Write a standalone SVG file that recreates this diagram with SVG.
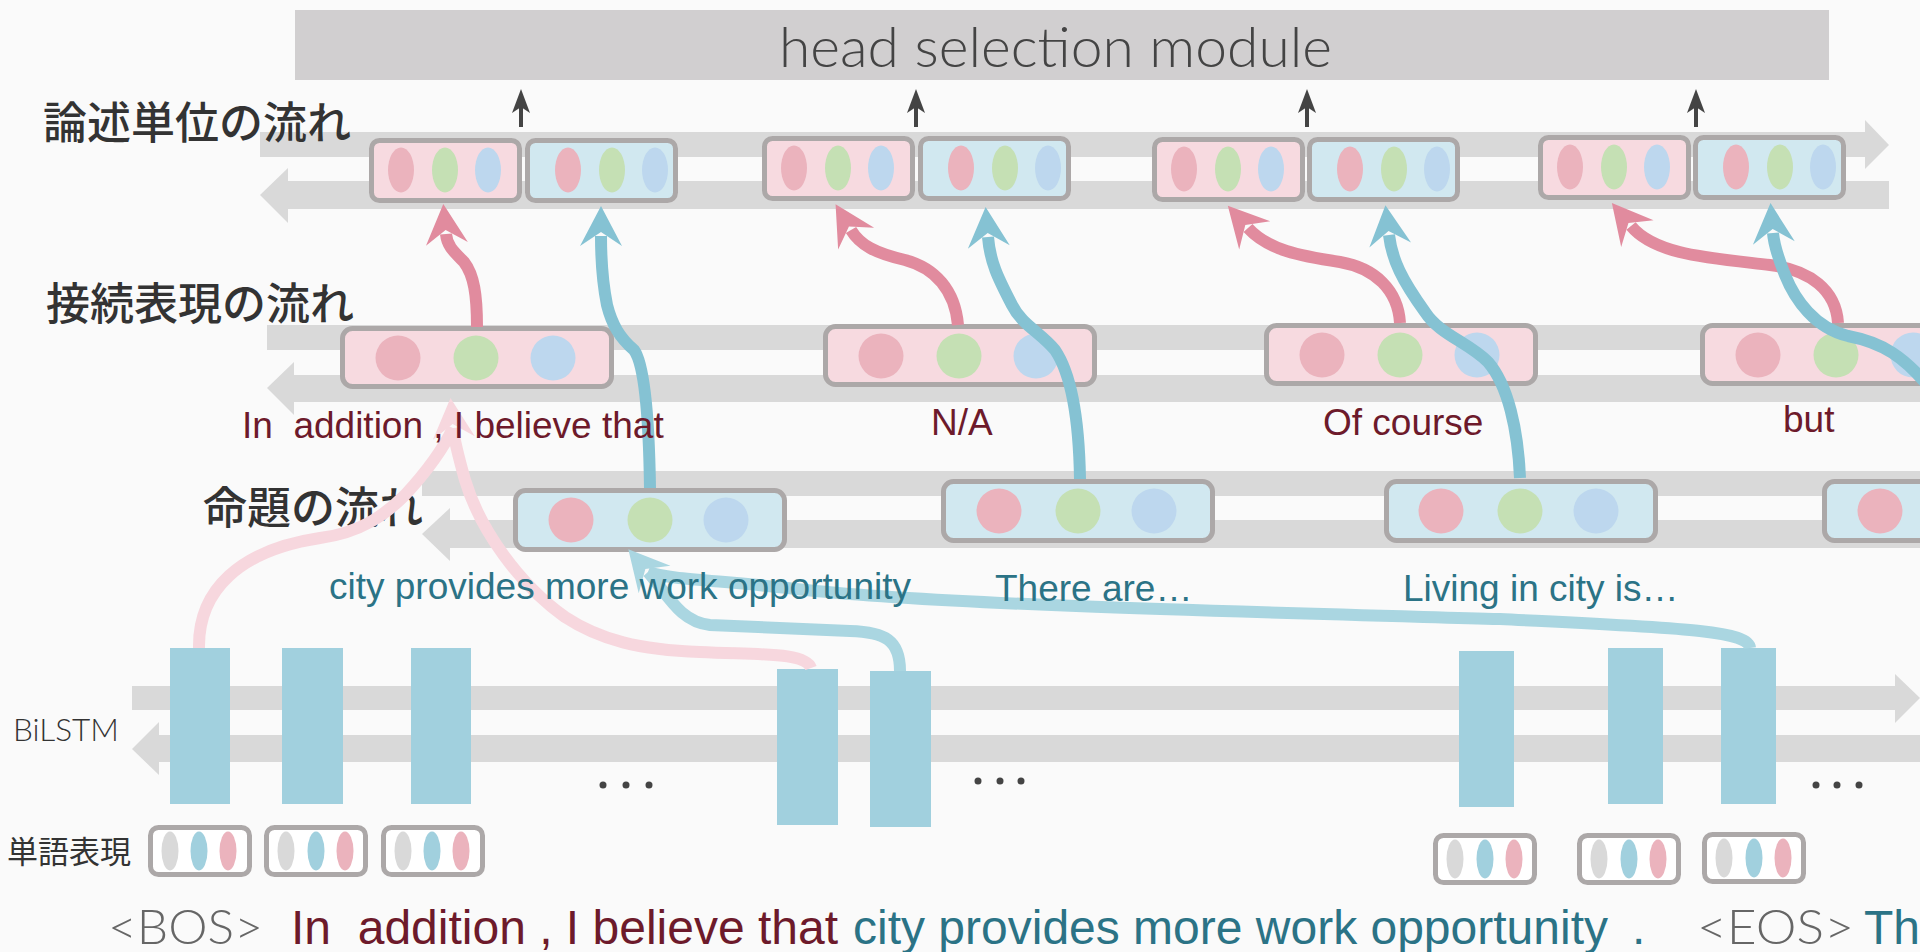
<svg xmlns="http://www.w3.org/2000/svg" width="1920" height="952" viewBox="0 0 1920 952" xml:space="preserve">
<defs>
<style>
.bar{fill:#d9d9d9}
.pk{fill:#f7dae0;stroke:#aca8a8;stroke-width:5}
.bl{fill:#d1e8f0;stroke:#aca8a8;stroke-width:5}
.wb{fill:#ffffff;stroke:#aca8a8;stroke-width:5}
.e1{fill:#ebb3bd}.e2{fill:#c5e0b4}.e3{fill:#bdd7ee}
.w1{fill:#d9d9d9}.w2{fill:#a1d0de}.w3{fill:#ebb3bd}
.cell{fill:#a1d0de}
.jp{font-family:"Noto Sans CJK JP","Noto Sans CJK SC",sans-serif;fill:#333333;font-weight:500}
.en{font-family:"Liberation Sans",Arial,sans-serif;white-space:pre}
.lt{font-family:"Lato","Liberation Sans",sans-serif;font-weight:300}
.red{fill:#6d1a2b}.teal{fill:#2b7386}.gry{fill:#666666}
.cP{fill:none;stroke:#e18b9e;stroke-width:12}
.cB{fill:none;stroke:#85c2d3;stroke-width:12}
.cLP{fill:none;stroke:#f7d7de;stroke-width:12}
.cLB{fill:none;stroke:#aad6e1;stroke-width:12}
.up{stroke:#444444;stroke-width:4;fill:none}
.uph{fill:#444444}
</style>
<marker id="ahP" markerUnits="userSpaceOnUse" markerWidth="80" markerHeight="80" viewBox="-40 -40 80 80" refX="0" refY="0" orient="auto" overflow="visible"><path d="M30 0 L-10 -21 L4 0 L-10 21 Z" fill="#e18b9e"/></marker>
<marker id="ahB" markerUnits="userSpaceOnUse" markerWidth="80" markerHeight="80" viewBox="-40 -40 80 80" refX="0" refY="0" orient="auto" overflow="visible"><path d="M30 0 L-10 -21 L4 0 L-10 21 Z" fill="#85c2d3"/></marker>
<marker id="ahLP" markerUnits="userSpaceOnUse" markerWidth="80" markerHeight="80" viewBox="-40 -40 80 80" refX="0" refY="0" orient="auto" overflow="visible"><path d="M30 0 L-10 -21 L4 0 L-10 21 Z" fill="#f7d7de"/></marker>
<marker id="ahLB" markerUnits="userSpaceOnUse" markerWidth="80" markerHeight="80" viewBox="-40 -40 80 80" refX="0" refY="0" orient="auto" overflow="visible"><path d="M30 0 L-10 -21 L4 0 L-10 21 Z" fill="#aad6e1"/></marker>
</defs>
<rect x="0" y="0" width="1920" height="952" fill="#fafafa"/>

<g id="flows">
<rect class="bar" x="260" y="132" width="1605" height="25"/>
<polygon class="bar" points="1865,120 1889,145 1865,169"/>
<rect class="bar" x="288" y="181" width="1601" height="28"/>
<polygon class="bar" points="288,168 260,195 288,223"/>
<rect class="bar" x="267" y="325" width="1653" height="25"/>
<rect class="bar" x="294" y="375" width="1626" height="27"/>
<polygon class="bar" points="294,362 267,388 294,415"/>
<rect class="bar" x="422" y="471" width="1498" height="25"/>
<rect class="bar" x="450" y="520" width="1470" height="28"/>
<polygon class="bar" points="450,508 422,534 450,561"/>
<rect class="bar" x="132" y="686" width="1763" height="24"/>
<polygon class="bar" points="1895,674 1920,698 1895,723"/>
<rect class="bar" x="159" y="735" width="1761" height="27"/>
<polygon class="bar" points="159,722 132,749 159,775"/>
</g>

<g id="head-selection">
<rect x="295" y="10" width="1534" height="70" fill="#d1cfd0"/>
<text class="lt" x="779" y="67" font-size="56" fill="#444444" textLength="553" lengthAdjust="spacingAndGlyphs">head selection module</text>
</g>

<g id="layer-labels">
<text class="jp" x="43" y="139" font-size="44">論述単位の流れ</text>
<text class="jp" x="46" y="320" font-size="44">接続表現の流れ</text>
<text class="jp" x="203" y="524" font-size="44">命題の流れ</text>
<text class="lt" x="13" y="741" font-size="31" fill="#333333" textLength="106" lengthAdjust="spacingAndGlyphs">BiLSTM</text>
<text class="jp" x="7" y="863" font-size="31" style="font-weight:400">単語表現</text>
</g>

<g id="top-unit-1">
<rect class="pk" x="371.5" y="140.5" width="148" height="60" rx="8"/>
<ellipse class="e1" cx="401" cy="170" rx="13" ry="22.5"/><ellipse class="e2" cx="445" cy="170" rx="13" ry="22.5"/><ellipse class="e3" cx="488" cy="170" rx="13" ry="22.5"/>
<rect class="bl" x="527.5" y="140.5" width="148" height="60" rx="8"/>
<ellipse class="e1" cx="568" cy="170" rx="13" ry="22.5"/><ellipse class="e2" cx="612" cy="170" rx="13" ry="22.5"/><ellipse class="e3" cx="655" cy="170" rx="13" ry="22.5"/>
</g>
<g id="top-unit-2">
<rect class="pk" x="764.5" y="138.5" width="148" height="60" rx="8"/>
<ellipse class="e1" cx="794" cy="168" rx="13" ry="22.5"/><ellipse class="e2" cx="838" cy="168" rx="13" ry="22.5"/><ellipse class="e3" cx="881" cy="168" rx="13" ry="22.5"/>
<rect class="bl" x="920.5" y="138.5" width="148" height="60" rx="8"/>
<ellipse class="e1" cx="961" cy="168" rx="13" ry="22.5"/><ellipse class="e2" cx="1005" cy="168" rx="13" ry="22.5"/><ellipse class="e3" cx="1048" cy="168" rx="13" ry="22.5"/>
</g>
<g id="top-unit-3">
<rect class="pk" x="1154.5" y="139.5" width="148" height="60" rx="8"/>
<ellipse class="e1" cx="1184" cy="169" rx="13" ry="22.5"/><ellipse class="e2" cx="1228" cy="169" rx="13" ry="22.5"/><ellipse class="e3" cx="1271" cy="169" rx="13" ry="22.5"/>
<rect class="bl" x="1309.5" y="139.5" width="148" height="60" rx="8"/>
<ellipse class="e1" cx="1350" cy="169" rx="13" ry="22.5"/><ellipse class="e2" cx="1394" cy="169" rx="13" ry="22.5"/><ellipse class="e3" cx="1437" cy="169" rx="13" ry="22.5"/>
</g>
<g id="top-unit-4">
<rect class="pk" x="1540.5" y="137.5" width="148" height="60" rx="8"/>
<ellipse class="e1" cx="1570" cy="167" rx="13" ry="22.5"/><ellipse class="e2" cx="1614" cy="167" rx="13" ry="22.5"/><ellipse class="e3" cx="1657" cy="167" rx="13" ry="22.5"/>
<rect class="bl" x="1695.5" y="137.5" width="148" height="60" rx="8"/>
<ellipse class="e1" cx="1736" cy="167" rx="13" ry="22.5"/><ellipse class="e2" cx="1780" cy="167" rx="13" ry="22.5"/><ellipse class="e3" cx="1823" cy="167" rx="13" ry="22.5"/>
</g>

<g id="conn-node-1">
<rect class="pk" x="342.5" y="328.5" width="269" height="58" rx="10"/>
<circle class="e1" cx="398" cy="358" r="22.5"/><circle class="e2" cx="476" cy="358" r="22.5"/><circle class="e3" cx="553" cy="358" r="22.5"/>
</g>
<g id="conn-node-2">
<rect class="pk" x="825.5" y="326.5" width="269" height="58" rx="10"/>
<circle class="e1" cx="881" cy="356" r="22.5"/><circle class="e2" cx="959" cy="356" r="22.5"/><circle class="e3" cx="1036" cy="356" r="22.5"/>
</g>
<g id="conn-node-3">
<rect class="pk" x="1266.5" y="325.5" width="269" height="58" rx="10"/>
<circle class="e1" cx="1322" cy="355" r="22.5"/><circle class="e2" cx="1400" cy="355" r="22.5"/><circle class="e3" cx="1477" cy="355" r="22.5"/>
</g>
<g id="conn-node-4">
<rect class="pk" x="1702.5" y="325.5" width="269" height="58" rx="10"/>
<circle class="e1" cx="1758" cy="355" r="22.5"/><circle class="e2" cx="1836" cy="355" r="22.5"/><circle class="e3" cx="1913" cy="355" r="22.5"/>
</g>

<g id="prop-node-1">
<rect class="bl" x="515.5" y="490.5" width="269" height="59" rx="10"/>
<circle class="e1" cx="571" cy="520" r="22.5"/><circle class="e2" cx="650" cy="520" r="22.5"/><circle class="e3" cx="726" cy="520" r="22.5"/>
</g>
<g id="prop-node-2">
<rect class="bl" x="943.5" y="481.5" width="269" height="59" rx="10"/>
<circle class="e1" cx="999" cy="511" r="22.5"/><circle class="e2" cx="1078" cy="511" r="22.5"/><circle class="e3" cx="1154" cy="511" r="22.5"/>
</g>
<g id="prop-node-3">
<rect class="bl" x="1386.5" y="481.5" width="269" height="59" rx="10"/>
<circle class="e1" cx="1441" cy="511" r="22.5"/><circle class="e2" cx="1520" cy="511" r="22.5"/><circle class="e3" cx="1596" cy="511" r="22.5"/>
</g>
<g id="prop-node-4">
<rect class="bl" x="1824.5" y="481.5" width="269" height="59" rx="10"/>
<circle class="e1" cx="1880" cy="511" r="22.5"/>
</g>

<g id="bilstm-cells">
<rect class="cell" x="170" y="648" width="60" height="156"/>
<rect class="cell" x="282" y="648" width="61" height="156"/>
<rect class="cell" x="411" y="648" width="60" height="156"/>
<rect class="cell" x="777" y="669" width="61" height="156"/>
<rect class="cell" x="870" y="671" width="61" height="156"/>
<rect class="cell" x="1459" y="651" width="55" height="156"/>
<rect class="cell" x="1608" y="648" width="55" height="156"/>
<rect class="cell" x="1721" y="648" width="55" height="156"/>
</g>

<g id="ellipsis" fill="#444444">
<circle cx="603" cy="785" r="3.5"/><circle cx="626" cy="785" r="3.5"/><circle cx="649" cy="785" r="3.5"/>
<circle cx="978" cy="781" r="3.5"/><circle cx="1000" cy="781" r="3.5"/><circle cx="1021" cy="781" r="3.5"/>
<circle cx="1816" cy="785" r="3.5"/><circle cx="1837" cy="785" r="3.5"/><circle cx="1859" cy="785" r="3.5"/>
</g>

<g id="word-1"><rect class="wb" x="150.5" y="827.5" width="99" height="47" rx="8"/><ellipse class="w1" cx="170" cy="851" rx="8.5" ry="19.5"/><ellipse class="w2" cx="199" cy="851" rx="8.5" ry="19.5"/><ellipse class="w3" cx="228" cy="851" rx="8.5" ry="19.5"/></g>
<g id="word-2"><rect class="wb" x="266.5" y="827.5" width="99" height="47" rx="8"/><ellipse class="w1" cx="286" cy="851" rx="8.5" ry="19.5"/><ellipse class="w2" cx="316" cy="851" rx="8.5" ry="19.5"/><ellipse class="w3" cx="345" cy="851" rx="8.5" ry="19.5"/></g>
<g id="word-3"><rect class="wb" x="383.5" y="827.5" width="99" height="47" rx="8"/><ellipse class="w1" cx="403" cy="851" rx="8.5" ry="19.5"/><ellipse class="w2" cx="432" cy="851" rx="8.5" ry="19.5"/><ellipse class="w3" cx="461" cy="851" rx="8.5" ry="19.5"/></g>
<g id="word-4"><rect class="wb" x="1435.5" y="835.5" width="99" height="47" rx="8"/><ellipse class="w1" cx="1455" cy="859" rx="8.5" ry="19.5"/><ellipse class="w2" cx="1485" cy="859" rx="8.5" ry="19.5"/><ellipse class="w3" cx="1514" cy="859" rx="8.5" ry="19.5"/></g>
<g id="word-5"><rect class="wb" x="1579.5" y="835.5" width="99" height="47" rx="8"/><ellipse class="w1" cx="1599" cy="859" rx="8.5" ry="19.5"/><ellipse class="w2" cx="1629" cy="859" rx="8.5" ry="19.5"/><ellipse class="w3" cx="1658" cy="859" rx="8.5" ry="19.5"/></g>
<g id="word-6"><rect class="wb" x="1704.5" y="834.5" width="99" height="47" rx="8"/><ellipse class="w1" cx="1724" cy="858" rx="8.5" ry="19.5"/><ellipse class="w2" cx="1754" cy="858" rx="8.5" ry="19.5"/><ellipse class="w3" cx="1783" cy="858" rx="8.5" ry="19.5"/></g>

<g id="connectors">
<path class="cLP" d="M199 648 C198 590 240 550 320 538 C360 533 385 515 405 495 C430 468 445 445 453 428"/>
<path class="cLP" d="M811 668 C805 652 760 655 700 652 C640 650 600 640 565 617 C520 585 480 530 465 480 C458 455 454 440 453 428" marker-end="url(#ahLP)"/>
<path class="cLB" d="M1750 648 C1748 630 1680 628 1500 619 C1250 612 950 605 806 590 C720 580 670 580 648 572"/>
<path class="cLB" d="M900 671 C900 640 885 632 850 631 L710 625 C680 622 668 595 648 572" marker-end="url(#ahLB)"/>

<path class="cP" d="M477 327 C477 295 474 275 464 262 C452 250 447 245 446 234" marker-end="url(#ahP)"/>
<path class="cP" d="M958 325 C955 290 935 268 905 260 C875 253 860 245 851 230" marker-end="url(#ahP)"/>
<path class="cP" d="M1400 323 C1398 290 1375 268 1340 262 C1300 256 1268 250 1248 228" marker-end="url(#ahP)"/>
<path class="cP" d="M1838 323 C1836 290 1810 270 1770 265 C1710 258 1655 255 1631 226" marker-end="url(#ahP)"/>

<path class="cB" d="M650 488 C649 420 645 365 634 350 C620 338 612 325 607 305 C603 285 601 260 601 236" marker-end="url(#ahB)"/>
<path class="cB" d="M1080 479 C1079 420 1072 375 1055 350 C1040 332 1022 325 1012 305 C998 278 990 262 988 237" marker-end="url(#ahB)"/>
<path class="cB" d="M1520 478 C1518 430 1508 385 1488 362 C1468 342 1440 335 1425 312 C1402 280 1392 260 1389 235" marker-end="url(#ahB)"/>
<path class="cB" d="M1935 395 C1905 355 1880 342 1848 336 C1815 328 1795 300 1785 275 C1777 255 1774 245 1773 233" marker-end="url(#ahB)"/>

<path class="up" d="M521 127 V102"/><path class="uph" d="M521 89 L512 113 L521 107 L530 113 Z"/>
<path class="up" d="M916 127 V102"/><path class="uph" d="M916 89 L907 113 L916 107 L925 113 Z"/>
<path class="up" d="M1307 127 V102"/><path class="uph" d="M1307 89 L1298 113 L1307 107 L1316 113 Z"/>
<path class="up" d="M1696 127 V102"/><path class="uph" d="M1696 89 L1687 113 L1696 107 L1705 113 Z"/>
</g>

<g id="conn-labels" font-size="37">
<text class="en red" x="242" y="438" xml:space="preserve">In  addition , I believe that</text>
<text class="en red" x="931" y="435">N/A</text>
<text class="en red" x="1323" y="435">Of course</text>
<text class="en red" x="1783" y="432">but</text>
</g>
<g id="prop-labels" font-size="37">
<text class="en teal" x="329" y="599">city provides more work opportunity</text>
<text class="en teal" x="995" y="601">There are…</text>
<text class="en teal" x="1403" y="601">Living in city is…</text>
</g>

<g id="sentence" font-size="48">
<text class="lt gry" x="108" y="944" textLength="155" lengthAdjust="spacingAndGlyphs">&lt;BOS&gt;</text>
<text class="en red" x="291" y="944" xml:space="preserve">In  addition , I believe that</text>
<text class="en teal" x="853" y="944">city provides more work opportunity</text>
<text class="en teal" x="1632" y="944">.</text>
<text class="lt gry" x="1697" y="944" textLength="157" lengthAdjust="spacingAndGlyphs">&lt;EOS&gt;</text>
<text class="en teal" x="1864" y="944">Th</text>
</g>
</svg>
